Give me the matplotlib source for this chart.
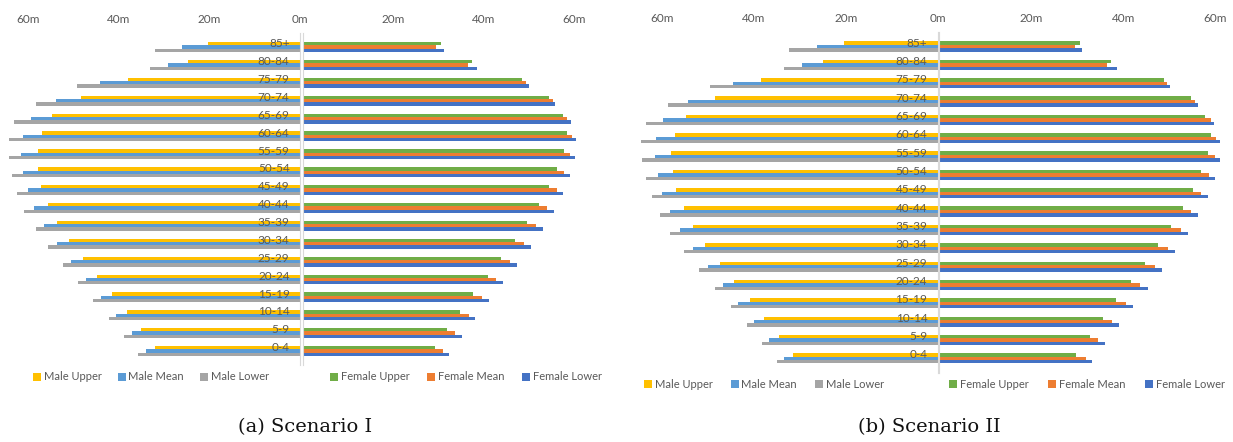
import matplotlib
matplotlib.use('Agg')
import matplotlib.pyplot as plt
import numpy as np
from matplotlib.patches import Patch

W, H = 1233, 442

ages = ['0-4', '5-9', '10-14', '15-19', '20-24', '25-29', '30-34', '35-39',
        '40-44', '45-49', '50-54', '55-59', '60-64', '65-69', '70-74',
        '75-79', '80-84', '85+']

# Scenario I (millions), ordered 0-4 ... 85+
male_upper_1 = [32.0, 35.1, 38.2, 41.4, 44.8, 47.9, 51.0, 53.5, 55.7, 57.2,
                57.7, 57.9, 57.0, 54.6, 48.3, 38.0, 24.6, 20.2]
male_mean_1 = [34.0, 37.1, 40.6, 43.9, 47.2, 50.5, 53.6, 56.4, 58.6, 60.1,
               61.0, 61.5, 61.2, 59.4, 53.9, 44.1, 29.2, 26.1]
male_lower_1 = [35.7, 38.8, 42.1, 45.6, 49.0, 52.3, 55.7, 58.3, 60.8, 62.4,
                63.5, 64.3, 64.3, 63.2, 58.3, 49.1, 33.1, 32.0]
female_upper_1 = [29.1, 31.8, 34.7, 37.6, 40.8, 43.8, 46.8, 49.4, 52.1, 54.3,
                  56.1, 57.7, 58.3, 57.5, 54.3, 48.5, 37.3, 30.4]
female_mean_1 = [30.9, 33.5, 36.7, 39.6, 42.7, 45.8, 48.8, 51.4, 53.9, 56.1,
                 57.7, 58.9, 59.4, 58.3, 55.2, 49.2, 36.5, 29.3]
female_lower_1 = [32.2, 35.1, 38.1, 41.1, 44.2, 47.4, 50.3, 53.0, 55.4, 57.5,
                  59.0, 60.1, 60.4, 59.3, 55.8, 49.9, 38.5, 31.1]

# Scenario II (millions)
male_upper_2 = [31.5, 34.6, 37.8, 40.9, 44.3, 47.5, 50.6, 53.3, 55.3, 56.9,
                57.7, 58.0, 57.1, 54.8, 48.5, 38.4, 25.0, 20.5]
male_mean_2 = [33.5, 36.7, 40.1, 43.4, 46.8, 50.1, 53.3, 56.0, 58.3, 60.1,
               60.9, 61.6, 61.4, 59.8, 54.4, 44.6, 29.5, 26.3]
male_lower_2 = [35.1, 38.3, 41.6, 45.0, 48.5, 52.0, 55.3, 58.3, 60.4, 62.2,
                63.4, 64.3, 64.6, 63.4, 58.7, 49.6, 33.5, 32.4]
female_upper_2 = [29.8, 32.7, 35.6, 38.5, 41.7, 44.6, 47.5, 50.4, 52.9, 55.1,
                  56.9, 58.3, 59.0, 57.8, 54.7, 48.9, 37.4, 30.5]
female_mean_2 = [31.8, 34.5, 37.6, 40.5, 43.6, 46.9, 49.7, 52.4, 54.7, 56.9,
                 58.5, 59.8, 60.1, 58.9, 55.6, 49.5, 36.5, 29.4]
female_lower_2 = [33.2, 36.0, 39.0, 42.1, 45.3, 48.4, 51.3, 54.0, 56.2, 58.3,
                  59.8, 61.0, 61.0, 59.6, 56.2, 50.0, 38.6, 31.1]

male_labels = ['Male Upper', 'Male Mean', 'Male Lower']
female_labels = ['Female Upper', 'Female Mean', 'Female Lower']
male_colors = ['#FFC000', '#5B9BD5', '#A5A5A5']
female_colors = ['#70AD47', '#ED7D31', '#4472C4']
text_color = '#595959'
axis_color = '#D9D9D9'

plt.rcParams['font.family'] = ['Lato', 'DejaVu Sans']

fig = plt.figure(figsize=(W / 100, H / 100), dpi=100)


def px_axes(left, right, top, bottom):
    return fig.add_axes([left / W, 1 - bottom / H, (right - left) / W,
                         (bottom - top) / H])


def draw_side(ax, series, colors, ticks, male, pad):
    y = np.arange(len(ages))
    bh = 0.185
    for k, (vals, c) in enumerate(zip(series, colors)):
        ax.barh(y + (1 - k) * bh, vals, height=bh, color=c,
                edgecolor='none')
    ax.set_yticks([])
    ax.xaxis.tick_top()
    ax.set_xticks(ticks)
    ax.set_xticklabels(['%dm' % t for t in ticks])
    ax.tick_params(axis='x', length=0, labelsize=8.5, colors=text_color,
                   pad=pad)
    for s in ['top', 'bottom', 'left', 'right']:
        ax.spines[s].set_visible(False)
    side = 'right' if male else 'left'
    ax.spines[side].set_visible(True)
    ax.spines[side].set_color(axis_color)
    ax.spines[side].set_linewidth(0.8)
    ax.set_facecolor('none')
    if male:
        ax.invert_xaxis()
        for i, a in enumerate(ages):
            ax.text(2.3, i + bh, a, ha='right', va='center', fontsize=8.5,
                    color=text_color)


def panel(m_series, f_series, m_box, f_box, ycenter0, step, m_lim, f_lim,
          pad):
    ymin, ymax = -0.8, 17.8
    top = ycenter0 - ymax * step
    bottom = ycenter0 - ymin * step
    axm = px_axes(m_box[0], m_box[1], top, bottom)
    axf = px_axes(f_box[0], f_box[1], top, bottom)
    draw_side(axm, m_series, male_colors, [0, 20, 40, 60], True, pad)
    draw_side(axf, f_series, female_colors, [20, 40, 60], False, pad)
    axm.set_xlim(m_lim, 0)
    axf.set_xlim(0, f_lim)
    axm.set_ylim(ymin, ymax)
    axf.set_ylim(ymin, ymax)
    return axm, axf


def legend(labels, colors, cx, cy, spacing):
    handles = [Patch(facecolor=c, edgecolor='none') for c in colors]
    fig.legend(handles, labels, loc='center', ncol=3,
               bbox_to_anchor=(cx / W, 1 - cy / H), frameon=False,
               fontsize=8, labelcolor=text_color, handlelength=0.7,
               handleheight=0.7, handletextpad=0.25, columnspacing=spacing)


panel([male_upper_1, male_mean_1, male_lower_1],
      [female_upper_1, female_mean_1, female_lower_1],
      (1, 300), (303, 610), 351, 17.88, 299 / 4.533, 307 / 4.525, 5.5)
panel([male_upper_2, male_mean_2, male_lower_2],
      [female_upper_2, female_mean_2, female_lower_2],
      (632, 938), (939, 1233), 358.3, 18.34, 306 / 4.6, 294 / 4.61, 6)

legend(male_labels, male_colors, 151, 377, 1.45)
legend(female_labels, female_colors, 466, 377, 1.6)
legend(male_labels, male_colors, 764, 384, 1.65)
legend(female_labels, female_colors, 1087, 384, 1.8)

fig.text(305 / W, 1 - 427 / H, '(a) Scenario I', ha='center', va='center',
         fontsize=14, family='DejaVu Serif', color='#111111')
fig.text(929 / W, 1 - 427 / H, '(b) Scenario II', ha='center', va='center',
         fontsize=14, family='DejaVu Serif', color='#111111')

fig.savefig('out.png', dpi=100)
